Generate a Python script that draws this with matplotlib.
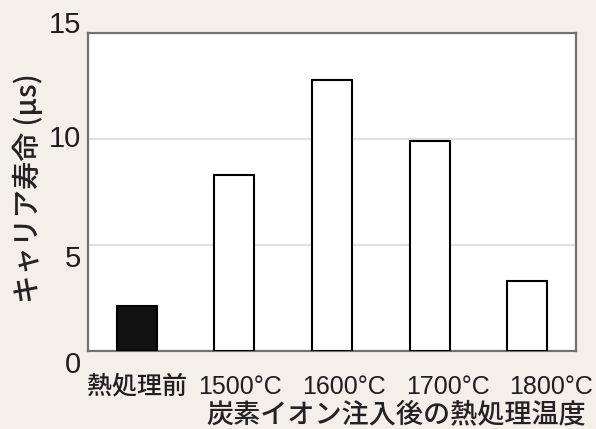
import matplotlib
matplotlib.use("Agg")
import matplotlib.pyplot as plt
from matplotlib.transforms import ScaledTranslation

# data
categories = ["熱処理前", "1500°C", "1600°C", "1700°C", "1800°C"]
lifetimes = [2.1, 8.3, 12.8, 9.9, 3.3]
bar_colors = ["#111111", "white", "white", "white", "white"]
y_ticks = [0, 5, 10, 15]

BG = "#f3efe9"
FRAME = "#77716b"
TEXT = "#1e1e1e"
LATIN = ["Liberation Sans", "Noto Sans CJK JP", "DejaVu Sans"]
CJK = ["Noto Sans CJK JP", "Liberation Sans", "DejaVu Sans"]

fig = plt.figure(figsize=(5.96, 4.29), dpi=100, facecolor=BG)
ax = fig.add_axes([88 / 596, 78 / 429, 488 / 596, 318 / 429])
ax.set_facecolor("white")

x = list(range(len(categories)))
ax.bar(x, lifetimes, width=0.41, color=bar_colors, edgecolor="black", linewidth=1.5, zorder=3)

ax.set_xlim(-0.5, len(categories) - 0.5)
ax.set_ylim(0, 15)
ax.set_yticks(y_ticks)
ax.yaxis.grid(True, color="#e4e1dd", linewidth=1.6, zorder=0)
ax.set_axisbelow(True)

for side in ["left", "right", "top", "bottom"]:
    ax.spines[side].set_color(FRAME)
    ax.spines[side].set_linewidth(1.6)

ax.tick_params(axis="both", length=0)
ax.tick_params(axis="y", pad=5)
ax.tick_params(axis="x", pad=17)

ax.set_yticklabels([str(t) for t in y_ticks], fontsize=21, family=LATIN, color=TEXT)
# the reference places its y numbers unevenly around the grid lines
for lab, va in zip(ax.get_yticklabels(), ["top", "top", "center", "baseline"]):
    lab.set_va(va)

ax.set_xticks(x)
ax.set_xticklabels(categories, fontsize=18, family=LATIN, color=TEXT)
ax.get_xticklabels()[0].set_fontweight("medium")
# labels are spread a bit wider than the bars
for i, lab in enumerate(ax.get_xticklabels()):
    lab.set_transform(lab.get_transform() + ScaledTranslation(i * 0.06, 0, fig.dpi_scale_trans))

ax.set_xlabel("炭素イオン注入後の熱処理温度", fontsize=19.5, family=CJK, fontweight="medium",
              color="#222222", ha="right", va="center")
ax.xaxis.set_label_coords((586 - 88) / 488, (351 - 415) / 318)

ax.set_ylabel("キャリア寿命 (μs)", fontsize=20.5, family=CJK, fontweight="medium",
              color="#222222", ha="center", va="center")
ax.yaxis.set_label_coords((28 - 88) / 488, (351 - 188) / 318)

fig.savefig("out.png", dpi=100, facecolor=BG)
